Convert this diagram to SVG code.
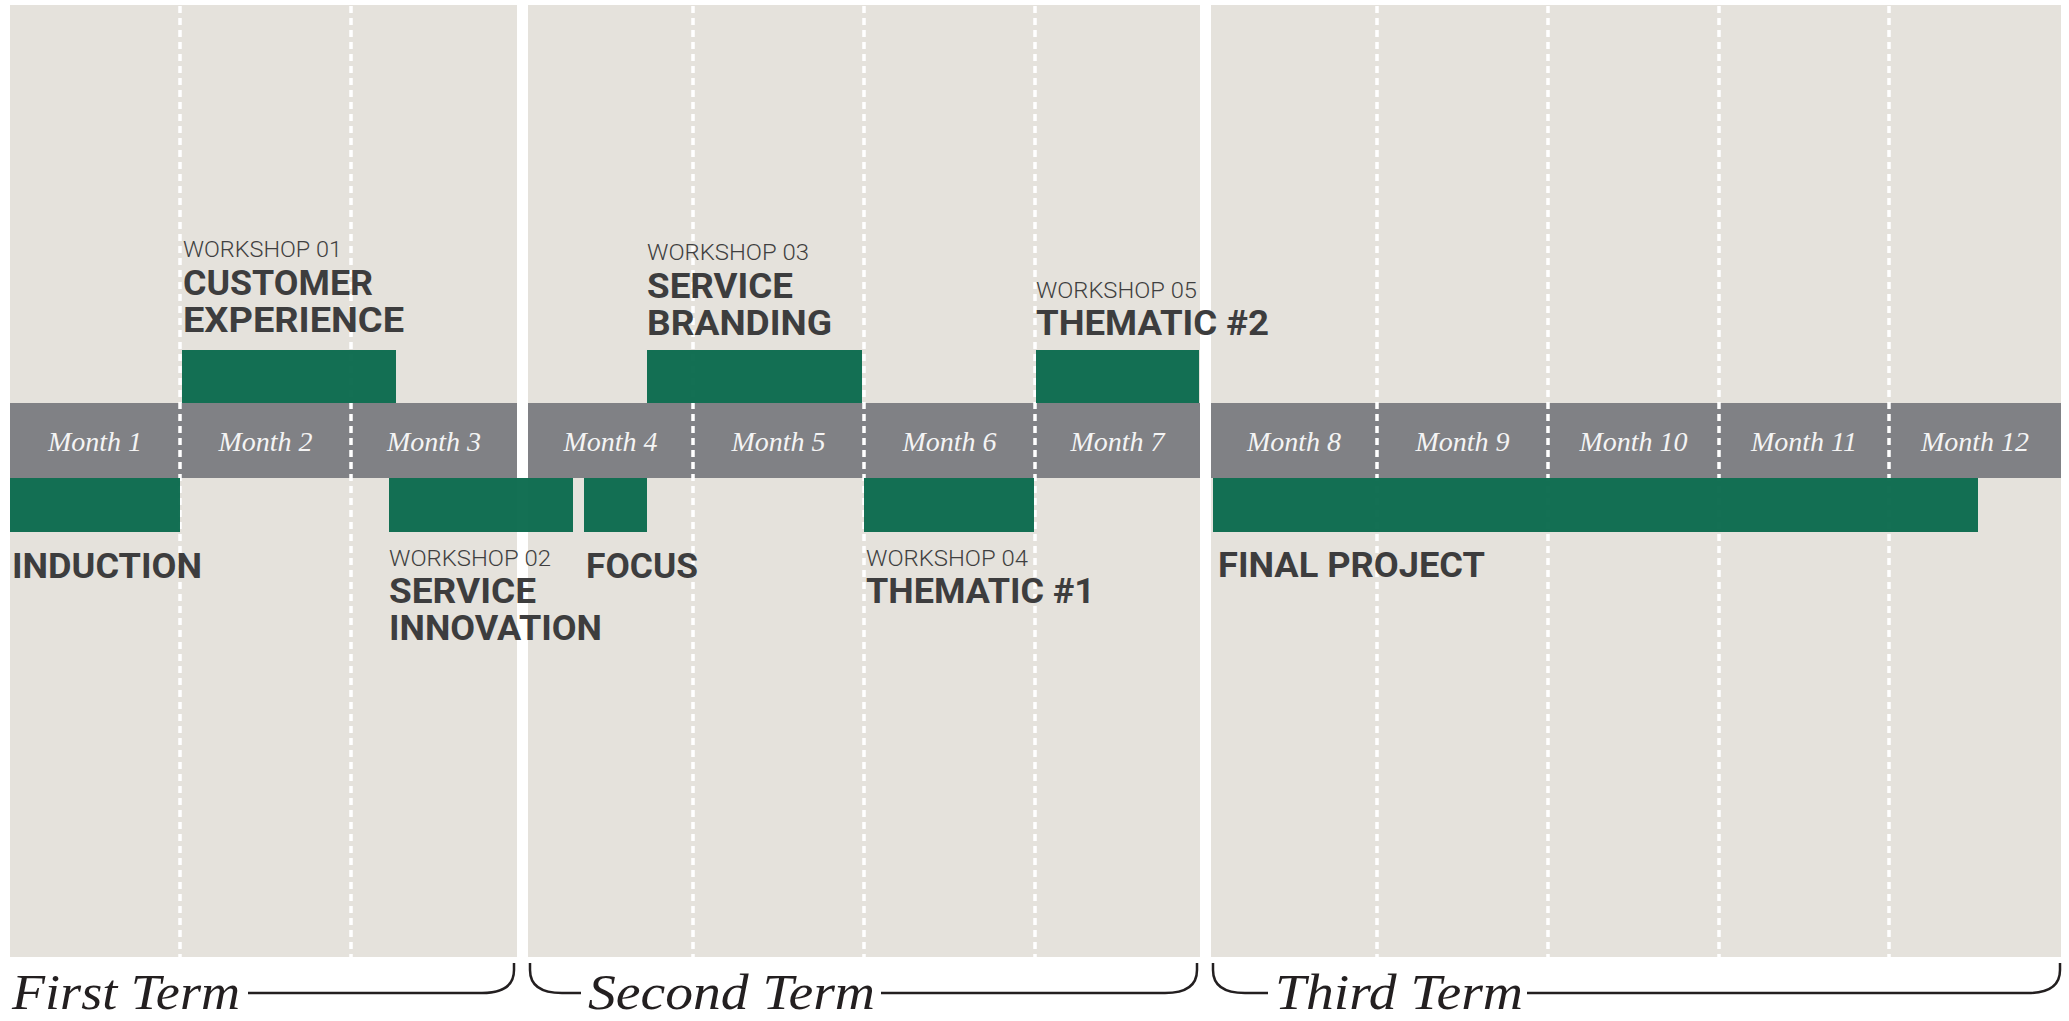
<svg xmlns="http://www.w3.org/2000/svg" width="2069" height="1021" viewBox="0 0 2069 1021">
<style>
.panel{fill:#e5e2dc}
.bar{fill:#808185}
.dash{stroke:#ffffff;stroke-width:3.5;stroke-dasharray:7 5;fill:none}
.green{fill:#0a6a4d;fill-opacity:0.96}
.month{font-family:"Liberation Serif",serif;font-style:italic;font-size:28px;fill:#f4f4f4;text-anchor:middle}
.ws{font-family:Roboto,"Liberation Sans",sans-serif;font-weight:300;font-size:22px;fill:#3f3f40}
.title{font-family:Roboto,"Liberation Sans",sans-serif;font-weight:700;font-size:35px;fill:#3d3d3e}
.term{font-family:"Liberation Serif",serif;font-style:italic;font-size:50px;fill:#231f20}
.brace{fill:none;stroke:#231f20;stroke-width:2.5}
</style>
<rect width="2069" height="1021" fill="#ffffff"/>
<g id="panels">
<rect class="panel" x="10" y="5" width="507" height="952"/>
<rect class="panel" x="528" y="5" width="672" height="952"/>
<rect class="panel" x="1211" y="5" width="850" height="952"/>
</g>
<g id="month-bar">
<rect class="bar" x="10" y="403" width="507" height="75"/>
<rect class="bar" x="528" y="403" width="672" height="75"/>
<rect class="bar" x="1211" y="403" width="850" height="75"/>
</g>
<g id="grid">
<line class="dash" x1="180" y1="6" x2="180" y2="957"/>
<line class="dash" x1="351" y1="6" x2="351" y2="957"/>
<line class="dash" x1="693" y1="6" x2="693" y2="957"/>
<line class="dash" x1="864" y1="6" x2="864" y2="957"/>
<line class="dash" x1="1035" y1="6" x2="1035" y2="957"/>
<line class="dash" x1="1377" y1="6" x2="1377" y2="957"/>
<line class="dash" x1="1548" y1="6" x2="1548" y2="957"/>
<line class="dash" x1="1719" y1="6" x2="1719" y2="957"/>
<line class="dash" x1="1889" y1="6" x2="1889" y2="957"/>
</g>
<g id="months">
<text class="month" x="95" y="451">Month 1</text>
<text class="month" x="265.5" y="451">Month 2</text>
<text class="month" x="434" y="451">Month 3</text>
<text class="month" x="610.5" y="451">Month 4</text>
<text class="month" x="778.5" y="451">Month 5</text>
<text class="month" x="949.5" y="451">Month 6</text>
<text class="month" x="1117.5" y="451">Month 7</text>
<text class="month" x="1294" y="451">Month 8</text>
<text class="month" x="1462.5" y="451">Month 9</text>
<text class="month" x="1633.5" y="451">Month 10</text>
<text class="month" x="1804" y="451">Month 11</text>
<text class="month" x="1975" y="451">Month 12</text>
</g>
<g id="induction">
<rect class="green" x="10" y="478" width="170" height="54"/>
<text class="title" x="12" y="578" textLength="190" lengthAdjust="spacingAndGlyphs">INDUCTION</text>
</g>
<g id="workshop-01">
<rect class="green" x="182" y="350" width="214" height="53"/>
<text class="ws" x="183" y="257" textLength="159" lengthAdjust="spacingAndGlyphs">WORKSHOP 01</text>
<text class="title" x="183" y="295" textLength="190" lengthAdjust="spacingAndGlyphs">CUSTOMER</text>
<text class="title" x="183" y="332" textLength="221" lengthAdjust="spacingAndGlyphs">EXPERIENCE</text>
</g>
<g id="workshop-02">
<rect class="green" x="389" y="478" width="184" height="54"/>
<text class="ws" x="389" y="566" textLength="162" lengthAdjust="spacingAndGlyphs">WORKSHOP 02</text>
<text class="title" x="389" y="603" textLength="147" lengthAdjust="spacingAndGlyphs">SERVICE</text>
<text class="title" x="389" y="640" textLength="213" lengthAdjust="spacingAndGlyphs">INNOVATION</text>
</g>
<g id="focus">
<rect class="green" x="584" y="478" width="63" height="54"/>
<text class="title" x="586" y="578" textLength="112" lengthAdjust="spacingAndGlyphs">FOCUS</text>
</g>
<g id="workshop-03">
<rect class="green" x="647" y="350" width="215" height="53"/>
<text class="ws" x="647" y="260" textLength="162" lengthAdjust="spacingAndGlyphs">WORKSHOP 03</text>
<text class="title" x="647" y="298" textLength="146" lengthAdjust="spacingAndGlyphs">SERVICE</text>
<text class="title" x="647" y="335" textLength="185" lengthAdjust="spacingAndGlyphs">BRANDING</text>
</g>
<g id="workshop-04">
<rect class="green" x="864" y="478" width="170" height="54"/>
<text class="ws" x="866" y="566" textLength="162" lengthAdjust="spacingAndGlyphs">WORKSHOP 04</text>
<text class="title" x="866" y="603" textLength="229" lengthAdjust="spacingAndGlyphs">THEMATIC #1</text>
</g>
<g id="workshop-05">
<rect class="green" x="1036" y="350" width="163" height="53"/>
<text class="ws" x="1036" y="298" textLength="161" lengthAdjust="spacingAndGlyphs">WORKSHOP 05</text>
<text class="title" x="1036" y="335" textLength="233" lengthAdjust="spacingAndGlyphs">THEMATIC #2</text>
</g>
<g id="final-project">
<rect class="green" x="1213" y="478" width="765" height="54"/>
<text class="title" x="1218" y="577" textLength="267" lengthAdjust="spacingAndGlyphs">FINAL PROJECT</text>
</g>
<g id="connectors">
<path class="brace" d="M248,993 H482 C505,993 514,984 514,970 V963"/>
<path class="brace" d="M530,963 V970 C530,984 539,993 562,993 H581"/>
<path class="brace" d="M881,993 H1165 C1188,993 1197,984 1197,970 V963"/>
<path class="brace" d="M1213,963 V970 C1213,984 1222,993 1245,993 H1268"/>
<path class="brace" d="M1527,993 H2028 C2051,993 2060,984 2060,970 V963"/>
</g>
<g id="terms">
<text class="term" x="12" y="1009" textLength="228" lengthAdjust="spacingAndGlyphs">First Term</text>
<text class="term" x="588" y="1009" textLength="287" lengthAdjust="spacingAndGlyphs">Second Term</text>
<text class="term" x="1275" y="1009" textLength="248" lengthAdjust="spacingAndGlyphs">Third Term</text>
</g>
</svg>
